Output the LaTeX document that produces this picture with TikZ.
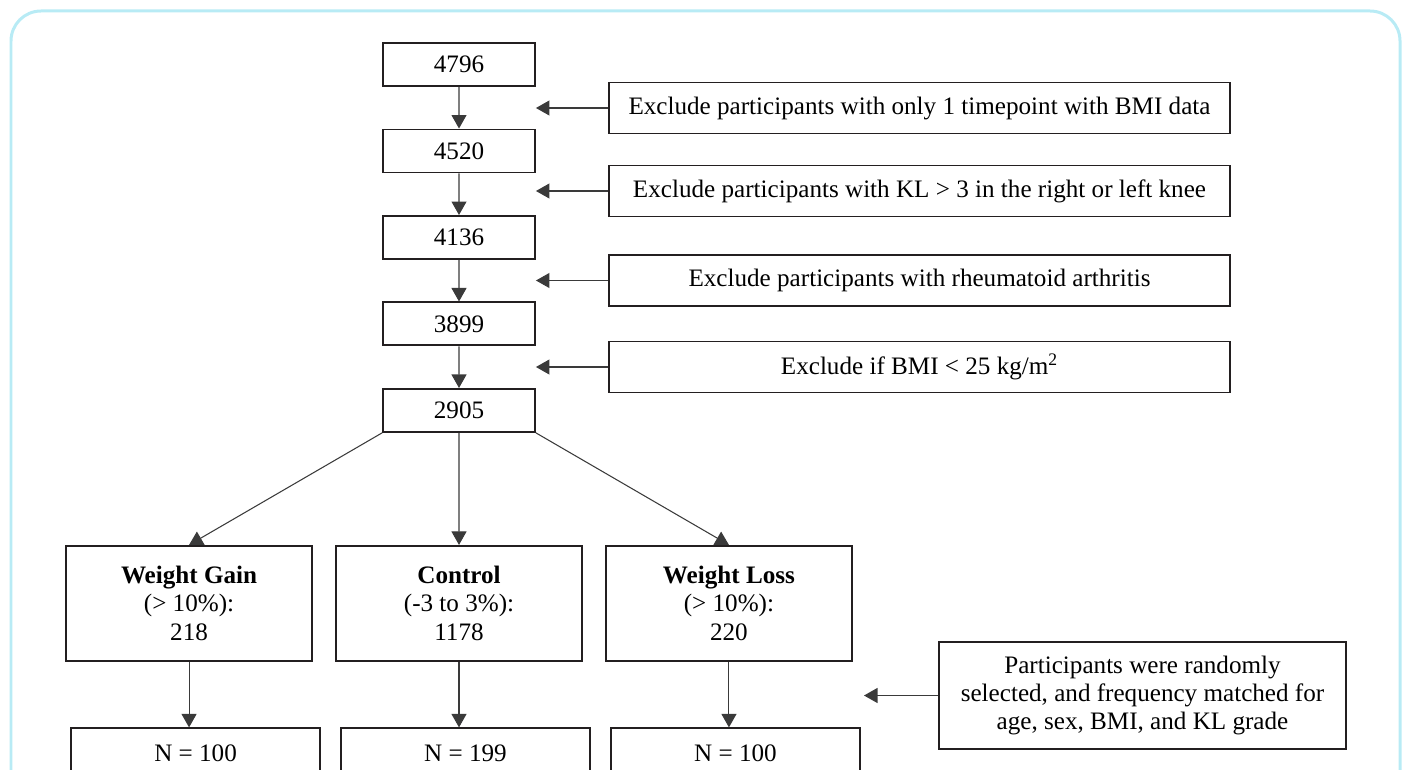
\documentclass[tikz,border=0pt]{standalone}
\usepackage{fontspec}
\setmainfont{Liberation Serif}
\usetikzlibrary{arrows.meta,positioning}
\definecolor{framecol}{HTML}{B8EBF5}
\definecolor{boxline}{HTML}{231F20}
\definecolor{linecol}{HTML}{3A3A3A}

\begin{document}
\begin{tikzpicture}[x=0.02cm,y=-0.02cm,font=\fontsize{14.3}{16}\selectfont,level distance=1.73cm]
        \tikzstyle{count box}=[draw=boxline,line width=1.1pt,minimum width=3.04cm,minimum height=0.86cm]
        \tikzstyle{exclude box}=[draw=boxline,line width=1.1pt,minimum width=12.42cm,minimum height=1.02cm]
        \tikzstyle{group box}=[draw=boxline,line width=1.1pt,minimum width=4.92cm,minimum height=2.3cm,align=center]
        \tikzstyle{sample box}=[draw=boxline,line width=1.1pt,minimum width=4.98cm,minimum height=1cm,xshift=0.13cm]
        \tikzstyle{note box}=[draw=boxline,line width=1.1pt,minimum width=8.14cm,minimum height=2.14cm,align=center]
        \tikzstyle{flow arrow}=[draw=linecol,line width=0.6pt,-{Triangle[length=0.27cm,width=0.3cm]}]
        \tikzstyle{edge from parent}=[flow arrow]
        \tikzstyle{level 5}=[level distance=3.86cm,sibling distance=5.4cm]
        \tikzstyle{level 6}=[level distance=3cm,edge from parent path={(\tikzparentnode.south) -- (\tikzparentnode.south |- \tikzchildnode.north)}]

        \clip (0,0) rectangle (1405,770);
        \draw[framecol,line width=0.06cm,rounded corners=0.6cm] (11,11) rectangle (1400,830);

        % Main selection chain
        \node(n4796)[count box] at (459,64.5){4796}
        child{node[count box](n4520){4520}
                child{node[count box](n4136){4136}
                        child{node[count box](n3899){3899}
                                child{node[count box](n2905){2905}
                                        child[edge from parent path={(\tikzparentnode.south west) -- (\tikzchildnode.north)}]{node[group box](gain){\textbf{Weight Gain}\\(> 10\%):\\218}
                                                child{node[sample box](ngain){N = 100}}
                                            }
                                        child{node[group box](ctrl){\textbf{Control}\\(-3 to 3\%):\\1178}
                                                child{node[sample box](nctrl){N = 199}}
                                            }
                                        child[edge from parent path={(\tikzparentnode.south east) -- (\tikzchildnode.north)}]{node[group box](loss){\textbf{Weight Loss}\\(> 10\%):\\220}
                                                child{node[sample box](nloss){N = 100}}
                                            }
                                    }
                            }
                    }
            };

        % Exclusion criteria
        \node(ex1)[exclude box] at (919.5,108){Exclude participants with only 1 timepoint with BMI data};
        \node(ex2)[exclude box] at (919.5,191){Exclude participants with KL > 3 in the right or left knee};
        \node(ex3)[exclude box] at (919.5,280.5){Exclude participants with rheumatoid arthritis};
        \node(ex4)[exclude box] at (919.5,367){Exclude if BMI < 25 kg/m\textsuperscript{2}};
        \node(match)[note box] at (1142.5,695.5){Participants were randomly\\selected, and frequency matched for\\age, sex, BMI, and KL grade};
        \coordinate(matchtip) at (864,695.5);

        \draw[flow arrow] (ex1.west) -- (ex1.west -| n4796.east);
        \draw[flow arrow] (ex2.west) -- (ex2.west -| n4520.east);
        \draw[flow arrow] (ex3.west) -- (ex3.west -| n4136.east);
        \draw[flow arrow] (ex4.west) -- (ex4.west -| n3899.east);
        \draw[flow arrow] (match.west) -- (matchtip);
    \end{tikzpicture}
\end{document}
